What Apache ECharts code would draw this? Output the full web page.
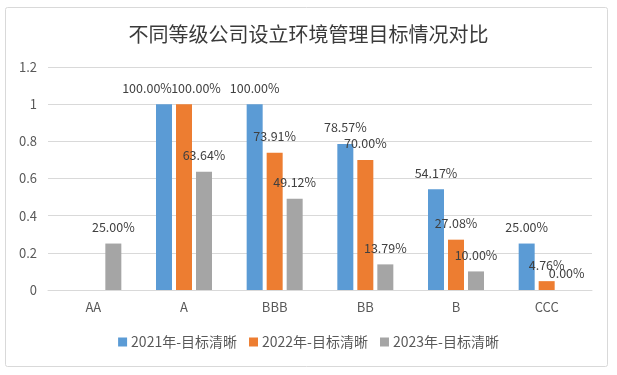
<!DOCTYPE html>
<html>
<head>
<meta charset="utf-8">
<script src="https://cdn.jsdelivr.net/npm/echarts@6/dist/echarts.min.js"></script>
<style>
html,body{margin:0;padding:0;background:#fff;}
#chart{width:617px;height:375px;}
</style>
</head>
<body>
<div id="chart"></div>
<script>
const titleText = '不同等级公司设立环境管理目标情况对比';
const categories = ['AA', 'A', 'BBB', 'BB', 'B', 'CCC'];
const seriesNames = ['2021年-目标清晰', '2022年-目标清晰', '2023年-目标清晰'];
const values2021 = [null, 1.0, 1.0, 0.7857, 0.5417, 0.25];
const values2022 = [null, 1.0, 0.7391, 0.70, 0.2708, 0.0476];
const values2023 = [0.25, 0.6364, 0.4912, 0.1379, 0.10, 0.0];
const yTicks = [0, 0.2, 0.4, 0.6, 0.8, 1, 1.2];

const colors = ['#5B9BD5', '#ED7D31', '#A5A5A5'];
const font = '"Noto Sans CJK SC", "Noto Sans", sans-serif';

// label nudges (style only) where the original labels were moved
const labelNudge = {
  0: {1: [-17, 0]},
  1: {1: [12, 0]}
};

function buildData(vals, sIdx) {
  return vals.map((v, i) => {
    const n = labelNudge[sIdx] && labelNudge[sIdx][i];
    if (n && v !== null) return {value: v, label: {offset: n}};
    return v;
  });
}

const allVals = [values2021, values2022, values2023];

const chart = echarts.init(document.getElementById('chart'), null, {renderer: 'canvas'});
chart.setOption({
  animation: false,
  backgroundColor: '#fff',
  color: colors,
  graphic: [{
    type: 'rect',
    shape: {x: 5.5, y: 7.5, width: 602, height: 359, r: 2},
    style: {fill: 'none', stroke: '#d9d9d9', lineWidth: 1},
    silent: true,
    z: -1
  }],
  title: {
    text: titleText,
    left: 'center',
    top: 19,
    textStyle: {fontFamily: font, fontSize: 20, fontWeight: 'normal', color: '#3a3a3a'}
  },
  legend: {
    data: seriesNames,
    bottom: 21,
    left: 'center',
    itemWidth: 9,
    itemHeight: 9,
    itemGap: 12,
    icon: 'rect',
    textStyle: {fontFamily: font, fontSize: 14, color: '#595959', padding: [0, 0, 0, -1]}
  },
  grid: {left: 48, right: 25, top: 67, bottom: 85},
  xAxis: {
    type: 'category',
    data: categories,
    axisLine: {lineStyle: {color: '#d9d9d9'}},
    axisTick: {show: false},
    axisLabel: {fontFamily: font, fontSize: 13, color: '#595959', margin: 11}
  },
  yAxis: {
    type: 'value',
    min: 0,
    max: 1.2,
    interval: 0.2,
    axisLine: {show: false},
    axisTick: {show: false},
    splitLine: {lineStyle: {color: '#d9d9d9'}},
    axisLabel: {
      fontFamily: font, fontSize: 13, color: '#595959', margin: 11,
      formatter: v => {
        const t = yTicks.find(x => Math.abs(x - v) < 1e-9);
        return String(t !== undefined ? t : +v.toFixed(1));
      }
    }
  },
  series: seriesNames.map((name, s) => ({
    name: name,
    type: 'bar',
    data: buildData(allVals[s], s),
    barWidth: 16,
    barGap: '25%',
    label: {
      show: true,
      position: 'top',
      distance: 10,
      fontFamily: font,
      fontSize: 12.5,
      color: '#404040',
      formatter: p => (p.value === null || p.value === undefined) ? '' : (p.value * 100).toFixed(2) + '%'
    }
  }))
});
</script>
</body>
</html>
